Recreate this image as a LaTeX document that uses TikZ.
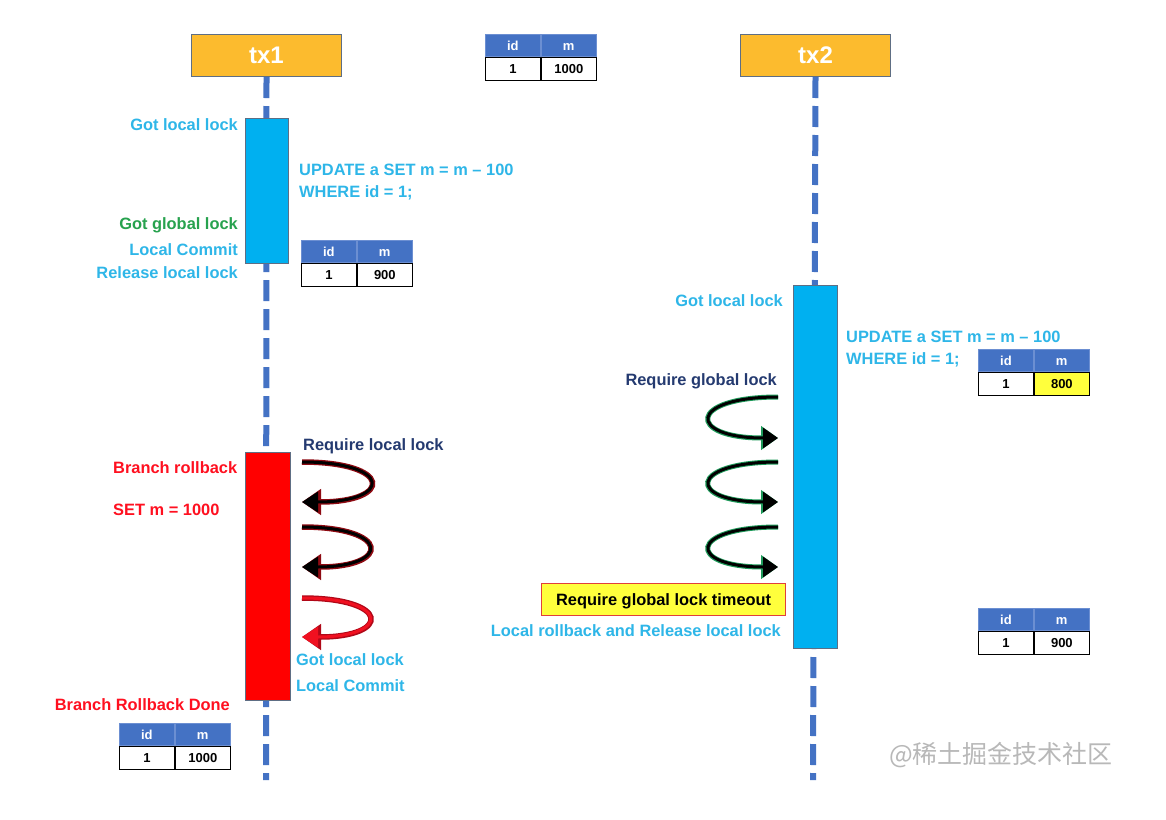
\documentclass[tikz,border=0pt]{standalone}
\usepackage{fontspec}
\setmainfont{Liberation Sans}
\newfontfamily\cjk{Noto Sans CJK SC}
\usetikzlibrary{arrows.meta}
\definecolor{txorange}{HTML}{FCBB2E}
\definecolor{txborder}{HTML}{5E6E84}
\definecolor{lifeblue}{HTML}{4472C4}
\definecolor{cyanfill}{HTML}{00B0F0}
\definecolor{cyantext}{HTML}{2EB6E8}
\definecolor{greentext}{HTML}{27A24E}
\definecolor{redtext}{HTML}{FF1020}
\definecolor{navytext}{HTML}{243A70}
\definecolor{hdrblue}{HTML}{4472C4}
\definecolor{hdrline}{HTML}{6C8FD2}
\definecolor{ylw}{HTML}{FFFF3C}
\definecolor{ylwborder}{HTML}{E0403A}
\definecolor{glowred}{HTML}{8E0A12}
\definecolor{glowgreen}{HTML}{1E9A5A}
\definecolor{arrred}{HTML}{F01020}
\definecolor{arrredd}{HTML}{B00818}
\definecolor{wm}{HTML}{B8B8B8}
\tikzset{
  txbox/.style={draw=txborder, line width=1pt, fill=txorange, minimum width=150pt, minimum height=42pt, inner sep=0pt,
    text=white, font=\fontsize{24}{26}\selectfont\bfseries},
  life/.style={draw=lifeblue, line width=6pt, dash pattern=on 21pt off 8pt},
  actbox/.style={draw=txborder, line width=0.8pt},
  lbl/.style={inner sep=0pt, font=\fontsize{16.4}{18}\selectfont\bfseries, text height=13pt, text depth=2pt},
  cy/.style={lbl, text=cyantext},
  gr/.style={lbl, text=greentext},
  rd/.style={lbl, text=redtext},
  nv/.style={lbl, text=navytext},
  hdr/.style={draw=hdrline, line width=0.8pt, fill=hdrblue, text=white, minimum width=55pt, minimum height=22pt,
    inner sep=0pt, font=\fontsize{13}{15}\selectfont\bfseries, text height=9.5pt, text depth=0pt},
  cell/.style={draw=black, line width=1.1pt, fill=white, text=black, minimum width=55pt, minimum height=23pt,
    inner sep=0pt, font=\fontsize{13}{15}\selectfont\bfseries, text height=9.5pt, text depth=0pt},
}
\newcommand\dbtable[6]{%
  \node[hdr, anchor=north west] (#1h1) at (#2,#3) {id};
  \node[hdr, anchor=north west] (#1h2) at (#1h1.north east) {m};
  \node[cell, anchor=north west] (#1c1) at (#1h1.south west) {1};
  \node[cell, anchor=north west, fill=#6] (#1c2) at (#1h2.south west) {#5};
}
\begin{document}
\begin{tikzpicture}[x=1pt, y=-1pt]
\useasboundingbox (0,0) rectangle (1166,819);
\fill[white] (0,0) rectangle (1166,819);

% transaction heads
\node[txbox, anchor=north west] (tx1) at (191,34) {tx1};
\node[txbox, anchor=north west] (tx2) at (740,34) {tx2};

% lifelines
\coordinate (end1) at (266,780);
\coordinate (end2) at (813,780);
\draw[life] (tx1.south) -- (end1);
\draw[life] (tx2.south) -- (end2);

% activation boxes
\node[actbox, fill=cyanfill, anchor=north west, minimum width=43pt, minimum height=145pt, inner sep=0pt] (a1) at (245,118) {};
\node[actbox, fill=red, anchor=north west, minimum width=45pt, minimum height=248pt, inner sep=0pt] (r1) at (245,452) {};
\node[actbox, fill=cyanfill, anchor=north west, minimum width=44pt, minimum height=363pt, inner sep=0pt] (a2) at (793,285) {};

% tables
\dbtable{t0}{485}{34}{1}{1000}{white}
\dbtable{t1}{301}{240}{1}{900}{white}
\dbtable{t2}{978}{349}{1}{800}{ylw}
\dbtable{t3}{978}{608}{1}{900}{white}
\dbtable{t4}{119}{723}{1}{1000}{white}

% tx1 labels
\node[cy, anchor=east] (l1) at (238,125) {Got local lock};
\node[gr, anchor=east] (l2) at (238,224) {Got global lock};
\node[cy, anchor=east] (l3) at (238,250) {Local Commit};
\node[cy, anchor=east] (l4) at (238,273) {Release local lock};
\node[cy, anchor=west] (l5) at (299,170) {UPDATE a SET m = m – 100};
\node[cy, anchor=west] (l6) at (299,192) {WHERE id = 1;};
\node[nv, anchor=west] (l7) at (303,445) {Require local lock};
\node[rd, anchor=west] (l8) at (113,468) {Branch rollback};
\node[rd, anchor=west] (l9) at (113,510) {SET m = 1000};
\node[cy, anchor=west] (l10) at (296,660) {Got local lock};
\node[cy, anchor=west] (l11) at (296,686) {Local Commit};
\node[rd, anchor=east] (l12) at (230,705) {Branch Rollback Done};

% tx2 labels
\node[cy, anchor=east] (m1) at (783,301) {Got local lock};
\node[cy, anchor=west] (m2) at (846,337) {UPDATE a SET m = m – 100};
\node[cy, anchor=west] (m3) at (846,359) {WHERE id = 1;};
\node[nv, anchor=east] (m4) at (777,380) {Require global lock};
\node[draw=ylwborder, line width=1.3pt, fill=ylw, anchor=north west, minimum width=244pt, minimum height=32pt,
  inner sep=0pt, font=\fontsize{16.4}{18}\selectfont\bfseries, text height=13pt, text depth=2pt, text=black] (m5) at (541,583) {Require global lock timeout};
\node[cy, anchor=east] (m6) at (781,631) {Local rollback and Release local lock};

% left retry arrows (tx1)
\coordinate (la1s) at (302,462); \coordinate (la1e) at (302,502);
\coordinate (la2s) at (302,527); \coordinate (la2e) at (302,567);
\coordinate (la3s) at (302,598); \coordinate (la3e) at (302,637);
\draw[glowred, line width=5.5pt, -{Triangle[length=19pt,width=25pt]}] (la1s) .. controls +(91,0) and +(91,0) .. (la1e);
\draw[black, line width=3pt, -{Triangle[length=16pt,width=20pt]}] (la1s) .. controls +(91,0) and +(91,0) .. (la1e);
\draw[glowred, line width=5.5pt, -{Triangle[length=19pt,width=25pt]}] (la2s) .. controls +(89,0) and +(89,0) .. (la2e);
\draw[black, line width=3pt, -{Triangle[length=16pt,width=20pt]}] (la2s) .. controls +(89,0) and +(89,0) .. (la2e);
\draw[arrredd, line width=5.5pt, -{Triangle[length=19pt,width=25pt]}] (la3s) .. controls +(89,0) and +(89,0) .. (la3e);
\draw[arrred, line width=3pt, -{Triangle[length=16pt,width=20pt]}] (la3s) .. controls +(89,0) and +(89,0) .. (la3e);

% right retry arrows (tx2)
\coordinate (ra1s) at (778,397); \coordinate (ra1e) at (778,438);
\coordinate (ra2s) at (778,462); \coordinate (ra2e) at (778,502);
\coordinate (ra3s) at (778,527); \coordinate (ra3e) at (778,567);
\foreach \s/\e in {ra1s/ra1e, ra2s/ra2e, ra3s/ra3e}{
  \draw[glowgreen, line width=5pt, -{Triangle[length=17pt,width=23pt]}] (\s) .. controls +(-91,0) and +(-91,0) .. (\e);
  \draw[black, line width=3pt, -{Triangle[length=15pt,width=20pt]}] (\s) .. controls +(-91,0) and +(-91,0) .. (\e);
}

% watermark
\node[inner sep=0pt, text=wm, font=\cjk\fontsize{25}{27}\selectfont] (wmk) at (1001,755) {@稀土掘金技术社区};
\end{tikzpicture}
\end{document}
